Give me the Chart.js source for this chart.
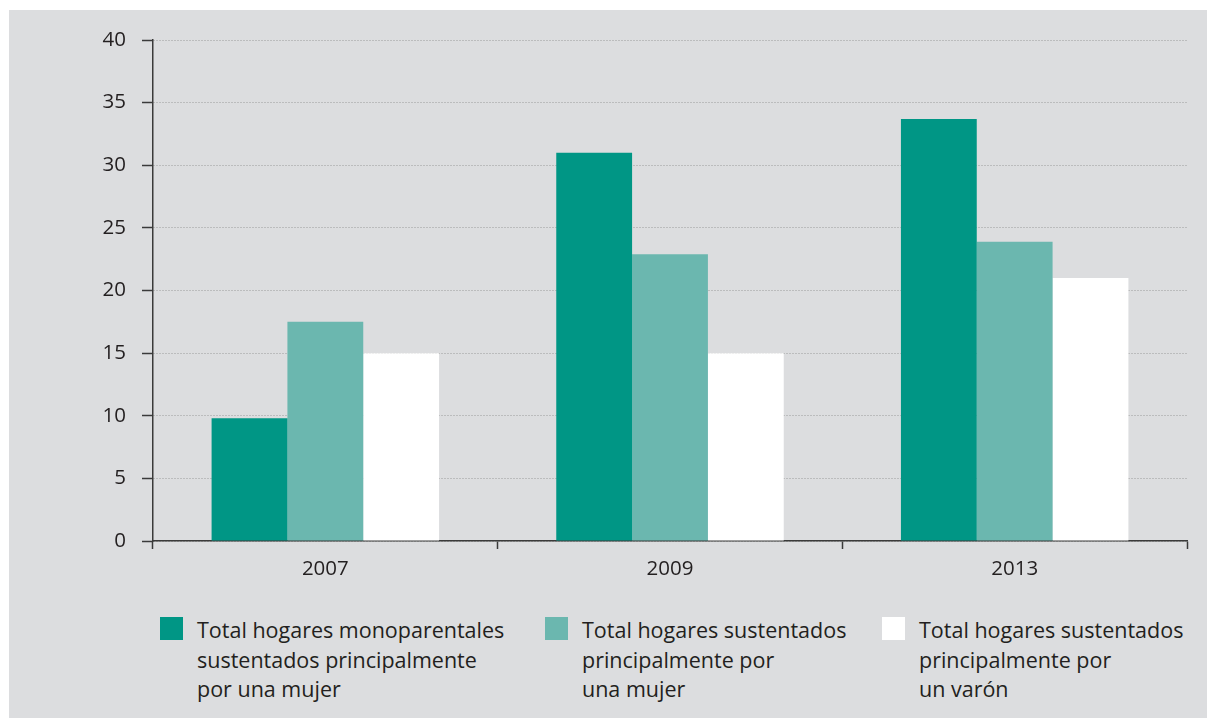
<!DOCTYPE html>
<html>
<head>
<meta charset="utf-8">
<script src="https://cdn.jsdelivr.net/npm/chart.js@4/dist/chart.umd.min.js"></script>
<style>
  html, body { margin: 0; padding: 0; background: #fff; }
  #panel { position: absolute; left: 9px; top: 10px; width: 1198px; height: 708px; background: #dcdddf; }
  #wrap { position: absolute; left: 0; top: 0; width: 1198px; height: 590px; }
  #legend { position: absolute; left: 0; top: 606px; width: 1198px; font-family: "Open Sans", sans-serif; font-size: 21.5px; color: #231f20; }
  .item { position: absolute; top: 0; }
  .box { position: absolute; left: 0; top: 1px; width: 23px; height: 23px; }
  .txt { position: absolute; left: 37px; top: -1px; line-height: 29.5px; white-space: nowrap; }
</style>
</head>
<body>
<div id="panel">
  <div id="wrap"><canvas id="chart"></canvas></div>
  <div id="legend"></div>
</div>
<script>
// years on the x axis
const years = ['2007', '2009', '2013']

// % of households
const monoparentalesMujer = [9.8, 31, 33.7]
const sustentadosMujer = [17.5, 22.9, 23.9]
const sustentadosVaron = [15, 15, 21]

const seriesNames = [
  ['Total hogares monoparentales', 'sustentados principalmente', 'por una mujer'],
  ['Total hogares sustentados', 'principalmente por', 'una mujer'],
  ['Total hogares sustentados', 'principalmente por', 'un varón']
]
const colors = ['#009685', '#6bb7af', '#ffffff']
const legendX = [151, 536, 873]

const textColor = '#231f20'
const font = { family: '"Open Sans", sans-serif', size: 20.5 }

const datasets = [monoparentalesMujer, sustentadosMujer, sustentadosVaron].map((values, i) => ({
  label: seriesNames[i].join(' '),
  data: values,
  backgroundColor: colors[i],
  borderWidth: 0
}))

new Chart(document.getElementById('chart'), {
  type: 'bar',
  data: { labels: years, datasets: datasets },
  options: {
    responsive: true,
    maintainAspectRatio: false,
    animation: false,
    categoryPercentage: 0.66,
    barPercentage: 1,
    layout: { padding: { left: 0, top: 30, right: 20, bottom: 14 } },
    plugins: { legend: { display: false }, tooltip: { enabled: false } },
    scales: {
      x: {
        afterFit: (s) => { s.height = 45 },
        grid: { drawOnChartArea: false, drawTicks: true, tickLength: 8, tickColor: '#3a3a3a', tickWidth: 1.5, offset: true },
        border: { color: '#3a3a3a', width: 1.5 },
        ticks: { color: textColor, font: font, padding: 8 }
      },
      y: {
        min: 0,
        max: 40,
        afterFit: (s) => { s.width = 144 },
        grid: { color: '#9a9a9a', lineWidth: 1, tickLength: 11, tickColor: '#3a3a3a', tickWidth: 1.5 },
        border: { color: '#3a3a3a', width: 1.5, dash: [1, 2] },
        ticks: { stepSize: 5, color: textColor, font: font, padding: 16 }
      }
    }
  }
})

// legend drawn as html so the labels can wrap onto three lines
const legend = document.getElementById('legend')
seriesNames.forEach((lines, i) => {
  const item = document.createElement('div')
  item.className = 'item'
  item.style.left = legendX[i] + 'px'
  item.innerHTML = '<div class="box" style="background:' + colors[i] + '"></div><div class="txt">' + lines.join('<br>') + '</div>'
  legend.appendChild(item)
})
</script>
</body>
</html>
